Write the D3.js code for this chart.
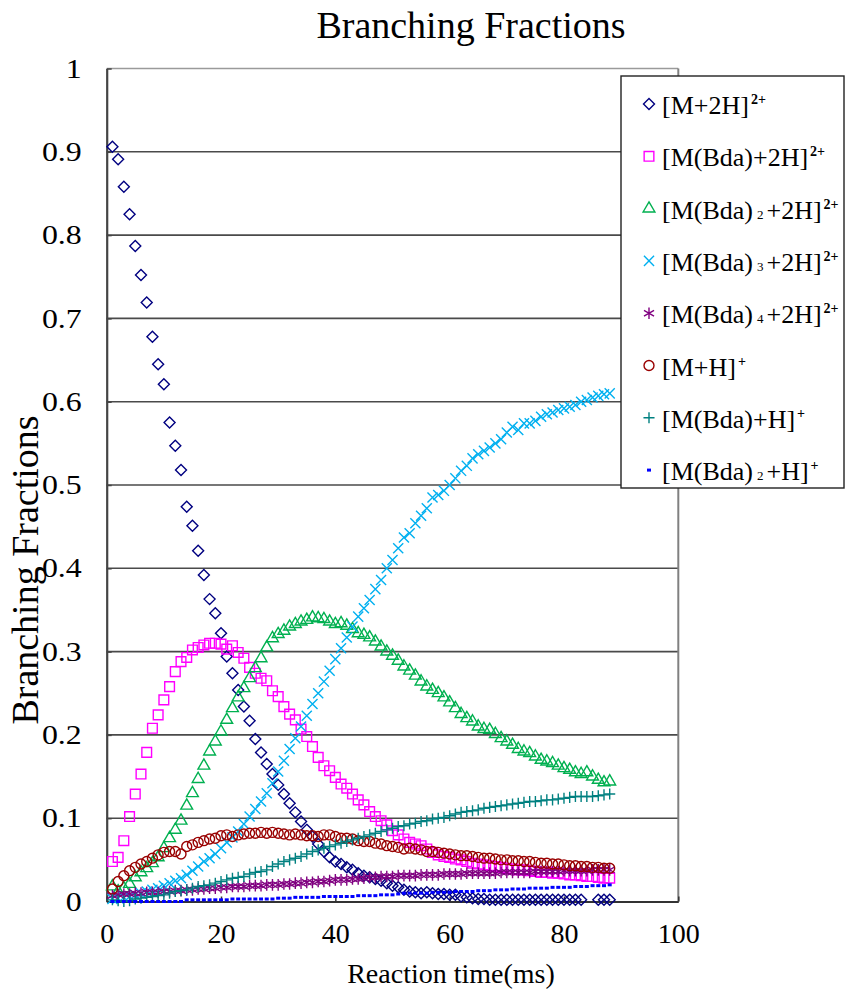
<!DOCTYPE html>
<html>
<head>
<meta charset="utf-8">
<script src="https://cdn.jsdelivr.net/npm/d3@7"></script>
<style>
  body { margin: 0; background: #fff; }
</style>
</head>
<body>
<svg id="chart" width="845" height="991"></svg>
<script>
// data
const times = [1,2,3,4,5,6,7,8,9,10,11,12,13,14,15,16,17,18,19,20,21,22,23,24,25,26,27,28,29,30,
  31,32,33,34,35,36,37,38,39,40,41,42,43,44,45,46,47,48,49,50,51,52,53,54,55,56,57,58,59,60,
  61,62,63,64,65,66,67,68,69,70,71,72,73,74,75,76,77,78,79,80,81,82,83,84,85,86,87,88]

const m2h = [0.906,0.891,0.858,0.825,0.787,0.752,0.719,0.678,0.645,0.621,
  0.575,0.547,0.518,0.474,0.451,0.421,0.392,0.363,0.346,0.322,
  0.294,0.274,0.254,0.234,0.217,0.195,0.179,0.165,0.153,0.140,
  0.129,0.118,0.107,0.096,0.086,0.078,0.069,0.060,0.053,0.048,
  0.045,0.041,0.038,0.034,0.031,0.029,0.027,0.025,0.022,0.019,
  0.017,0.014,0.012,0.011,0.010,0.011,0.010,0.009,0.009,0.008,
  0.008,0.006,0.005,0.004,0.003,0.003,0.002,0.002,0.002,0.002,
  0.002,0.002,0.002,0.002,0.002,0.002,0.002,0.002,0.002,0.002,
  0.002,0.002,0.002,null,null,0.002,0.002,0.002]

const bda1_2h = [0.048,0.053,0.073,0.102,0.129,0.153,0.179,0.208,0.224,0.242,
  0.258,0.276,0.288,0.293,0.302,0.305,0.308,0.310,0.310,0.309,
  0.303,0.307,0.299,0.292,0.281,0.274,0.268,0.265,0.253,0.246,
  0.234,0.225,0.218,0.207,0.198,0.186,0.173,0.163,0.157,0.149,
  0.141,0.136,0.129,0.122,0.116,0.108,0.102,0.097,0.092,0.085,
  0.080,0.075,0.071,0.069,0.067,0.063,0.059,0.056,0.054,0.053,
  0.051,0.050,0.048,0.046,0.045,0.044,0.043,0.042,0.041,0.040,
  0.039,0.038,0.038,0.037,0.036,0.035,0.035,0.034,0.034,0.033,
  0.032,0.032,0.031,0.030,0.030,0.029,0.028,0.028]

const bda2_2h = [0.018,0.012,0.016,0.021,0.029,0.035,0.040,0.046,0.053,0.064,
  0.076,0.086,0.097,0.115,0.130,0.147,0.163,0.180,0.192,0.204,
  0.218,0.232,0.245,0.256,0.268,0.280,0.292,0.305,0.316,0.321,
  0.325,0.330,0.333,0.336,0.338,0.341,0.340,0.339,0.336,0.333,
  0.334,0.331,0.327,0.322,0.320,0.317,0.312,0.306,0.300,0.295,
  0.289,0.282,0.277,0.271,0.264,0.258,0.254,0.250,0.245,0.239,
  0.232,0.225,0.220,0.216,0.210,0.207,0.206,0.201,0.196,0.192,
  0.188,0.183,0.180,0.178,0.174,0.170,0.168,0.166,0.163,0.160,
  0.158,0.155,0.153,0.155,0.150,0.146,0.143,0.144]

const bda3_2h = [0.003,0.004,0.005,0.006,0.008,0.010,0.012,0.014,0.016,0.019,
  0.022,0.025,0.028,0.032,0.037,0.042,0.048,0.052,0.057,0.064,
  0.071,0.077,0.084,0.093,0.102,0.111,0.120,0.130,0.142,0.156,
  0.169,0.183,0.196,0.210,0.223,0.237,0.250,0.264,0.277,0.291,
  0.304,0.317,0.330,0.342,0.352,0.362,0.375,0.386,0.400,0.410,
  0.424,0.437,0.442,0.454,0.463,0.472,0.485,0.488,0.493,0.500,
  0.508,0.517,0.523,0.532,0.537,0.541,0.545,0.550,0.555,0.563,
  0.570,0.566,0.574,0.574,0.577,0.582,0.585,0.587,0.590,0.592,
  0.594,0.596,0.600,0.602,0.605,0.607,0.609,0.610]

const bda4_2h = [0.007,0.008,0.009,0.009,0.010,0.010,0.011,0.011,0.011,0.012,
  0.012,0.013,0.013,0.014,0.014,0.015,0.015,0.016,0.016,0.017,
  0.017,0.018,0.018,0.018,0.019,0.019,0.019,0.020,0.020,0.020,
  0.021,0.021,0.022,0.022,0.023,0.023,0.024,0.024,0.025,0.026,
  0.026,0.026,0.027,0.027,0.028,0.029,0.029,0.030,0.030,0.030,
  0.031,0.031,0.031,0.031,0.032,0.032,0.032,0.032,0.033,0.033,
  0.033,0.033,0.034,0.034,0.034,0.034,0.034,0.034,0.035,0.035,
  0.035,0.035,0.035,0.035,0.036,0.036,0.036,0.036,0.036,0.037,
  0.037,0.037,0.037,0.037,0.038,0.038,0.038,0.038]

const mh = [0.015,0.024,0.031,0.037,0.041,0.045,0.048,0.052,0.056,0.059,
  0.060,0.060,0.057,0.066,0.068,0.071,0.073,0.075,0.076,0.079,
  0.080,0.078,0.080,0.081,0.082,0.082,0.083,0.082,0.083,0.082,
  0.081,0.080,0.081,0.080,0.079,0.079,0.078,0.080,0.080,0.078,
  0.076,0.076,0.075,0.073,0.072,0.072,0.070,0.069,0.067,0.066,
  0.065,0.063,0.064,0.063,0.062,0.060,0.060,0.059,0.058,0.057,
  0.056,0.055,0.055,0.054,0.053,0.052,0.052,0.051,0.050,0.050,
  0.049,0.049,0.048,0.048,0.047,0.046,0.046,0.045,0.045,0.044,
  0.043,0.043,0.042,0.042,0.041,0.041,0.040,0.040]

const bda1_h = [0.002,0.001,0.000,0.001,0.003,0.004,0.005,0.006,0.007,0.008,
  0.010,0.012,0.013,0.014,0.016,0.018,0.019,0.020,0.022,0.024,
  0.026,0.028,0.029,0.030,0.033,0.035,0.036,0.038,0.042,0.045,
  0.048,0.050,0.052,0.054,0.057,0.060,0.062,0.064,0.066,0.068,
  0.070,0.072,0.074,0.076,0.078,0.080,0.082,0.084,0.086,0.088,
  0.090,0.091,0.093,0.094,0.096,0.097,0.099,0.100,0.101,0.103,
  0.105,0.107,0.108,0.109,0.110,0.112,0.113,0.114,0.115,0.116,
  0.117,0.118,0.119,0.120,0.120,0.121,0.122,0.122,0.123,0.124,
  0.125,0.126,0.126,0.126,0.126,0.127,0.128,0.129]

const bda2_h = [0,0,0,0,0,0,0,0,0,0,
  0,0,0,0.002,0.002,0.002,0.002,0.002,0.002,0.002,
  0.002,0.003,0.003,0.003,0.003,0.003,0.003,0.003,0.003,0.004,
  0.004,0.004,0.005,0.005,0.005,0.005,0.005,0.006,0.006,0.006,
  0.006,0.006,0.006,0.007,0.007,0.007,0.007,0.008,0.008,0.008,
  0.009,0.010,0.010,0.010,0.010,0.010,0.011,0.011,0.011,0.011,
  0.012,0.012,0.012,0.012,0.013,0.013,0.013,0.014,0.014,0.014,
  0.015,0.015,0.015,0.016,0.016,0.016,0.016,0.017,0.017,0.017,
  0.017,0.018,0.018,0.018,0.019,0.019,0.019,0.020]

const yTicks = [0,0.1,0.2,0.3,0.4,0.5,0.6,0.7,0.8,0.9,1]
const yTickLabels = ["0","0.1","0.2","0.3","0.4","0.5","0.6","0.7","0.8","0.9","1"]
const xTicks = [0,20,40,60,80,100]

// legend labels: [text, kind]
const legendParts = [
  [["[M+2H]","n"],["2+","sup"]],
  [["[M(Bda)+2H]","n"],["2+","sup"]],
  [["[M(Bda)","n"],["2","sub"],["+2H]","n"],["2+","sup"]],
  [["[M(Bda)","n"],["3","sub"],["+2H]","n"],["2+","sup"]],
  [["[M(Bda)","n"],["4","sub"],["+2H]","n"],["2+","sup"]],
  [["[M+H]","n"],["+","sup"]],
  [["[M(Bda)+H]","n"],["+","sup"]],
  [["[M(Bda)","n"],["2","sub"],["+H]","n"],["+","sup"]]
]

const seriesValues = [m2h, bda1_2h, bda2_2h, bda3_2h, bda4_2h, mh, bda1_h, bda2_h]
const seriesColors = ["#000080","#ff00ff","#00b050","#00b0f0","#800080","#990000","#008080","#0000ff"]
const seriesSymbols = [d3.symbolDiamond2, d3.symbolSquare2, d3.symbolTriangle2, d3.symbolTimes,
  d3.symbolAsterisk, d3.symbolCircle, d3.symbolPlus, null]
const seriesSizes = [77, 120, 100, 68, 95, 78, 42, 0]

const SERIF = "'Liberation Serif', 'Times New Roman', serif"

// SCALES

const svg = d3.select("#chart")
const x = d3.scaleLinear().domain([0, 100]).range([106.7, 678.3])
const y = d3.scaleLinear().domain([0, 1]).range([901.5, 68.5])

svg.append("rect")
  .attr("width", 845).attr("height", 991).attr("fill", "#fff")

// GRID

svg.append("g")
  .selectAll("line")
  .data(yTicks.filter(d => d > 0 && d < 1))
  .enter()
  .append("line")
    .attr("x1", x(0)).attr("x2", x(100))
    .attr("y1", d => y(d)).attr("y2", d => y(d))
    .attr("stroke", "#4a4a4a")
    .attr("stroke-width", 1.6)

// plot frame top + right
svg.append("line")
  .attr("x1", x(0)).attr("x2", x(100)).attr("y1", y(1)).attr("y2", y(1))
  .attr("stroke", "#9a9a9a").attr("stroke-width", 1.5)
svg.append("line")
  .attr("x1", x(100)).attr("x2", x(100)).attr("y1", y(1)).attr("y2", y(0))
  .attr("stroke", "#808080").attr("stroke-width", 2)

// AXES

const yAxis = svg.append("g")
  .attr("transform", "translate(" + x(0) + ",0)")
  .call(d3.axisLeft(y).tickValues(yTicks).tickSize(-5).tickSizeOuter(0).tickPadding(25)
    .tickFormat((d, i) => yTickLabels[i]))
yAxis.select(".domain").attr("stroke", "#444").attr("stroke-width", 2.2)
yAxis.selectAll("line").attr("stroke", "#444").attr("stroke-width", 1.5)
yAxis.selectAll("text")
  .attr("font-family", SERIF)
  .attr("font-size", 27)
  .attr("fill", "#000")
  .attr("transform", function() {
    const tx = +d3.select(this).attr("x")
    return "translate(" + tx + ",0) scale(1.18,1)"
  })
  .attr("x", 0)

const xAxis = svg.append("g")
  .attr("transform", "translate(0," + y(0) + ")")
  .call(d3.axisBottom(x).tickValues(xTicks).tickSize(-5).tickSizeOuter(0).tickPadding(22))
xAxis.select(".domain").attr("stroke", "#333").attr("stroke-width", 2.2)
xAxis.selectAll("line").attr("stroke", "#333").attr("stroke-width", 1.5)
xAxis.selectAll("text")
  .attr("font-family", SERIF)
  .attr("font-size", 28)
  .attr("fill", "#000")

// SERIES

seriesValues.forEach(function(vals, s) {
  const pts = times.map((t, i) => ({t: t, v: vals[i]})).filter(d => d.v !== null)
  const g = svg.append("g").attr("class", "series")
  if (seriesSymbols[s]) {
    g.selectAll("path")
      .data(pts)
      .enter()
      .append("path")
        .attr("d", d3.symbol().type(seriesSymbols[s]).size(seriesSizes[s]))
        .attr("transform", d => "translate(" + x(d.t) + "," + y(d.v) + ")")
        .attr("fill", "none")
        .attr("stroke", seriesColors[s])
        .attr("stroke-width", 1.4)
  } else {
    g.selectAll("rect")
      .data(pts)
      .enter()
      .append("rect")
        .attr("x", d => x(d.t) - 2)
        .attr("y", d => y(d.v) - 1.5)
        .attr("width", 4)
        .attr("height", 3)
        .attr("fill", seriesColors[s])
  }
})

// LEGEND

const legend = svg.append("g").attr("class", "legend")
legend.append("rect")
  .attr("x", 621).attr("y", 76).attr("width", 223).attr("height", 412)
  .attr("fill", "#fff").attr("stroke", "#222").attr("stroke-width", 1.4)

const legendY = d3.scaleLinear().domain([0, 1]).range([114, 166.3])

legendParts.forEach(function(parts, i) {
  const by = legendY(i)
  const item = legend.append("g")
  if (seriesSymbols[i]) {
    item.append("path")
      .attr("d", d3.symbol().type(seriesSymbols[i]).size(seriesSizes[i]))
      .attr("transform", "translate(649," + (by - 10) + ")")
      .attr("fill", "none")
      .attr("stroke", seriesColors[i])
      .attr("stroke-width", 1.4)
  } else {
    item.append("rect")
      .attr("x", 647).attr("y", by - 11.5).attr("width", 4).attr("height", 3)
      .attr("fill", seriesColors[i])
  }
  const txt = item.append("text")
    .attr("x", 662).attr("y", by)
    .attr("font-family", SERIF)
    .attr("font-size", 26)
  parts.forEach(function(p) {
    const ts = txt.append("tspan").text(p[0])
    if (p[1] === "sup") {
      ts.attr("font-size", 14).attr("font-weight", "bold").attr("dx", 2).attr("dy", -10)
    } else if (p[1] === "sub") {
      ts.attr("font-size", 13).attr("dx", 4).attr("dy", 0)
    } else if (txt.selectAll("tspan").size() > 1) {
      ts.attr("dx", 3).attr("dy", 0)
    }
  })
})

// TITLES

svg.append("text")
  .attr("x", 471).attr("y", 38)
  .attr("text-anchor", "middle")
  .attr("font-family", SERIF)
  .attr("font-size", 38)
  .text("Branching Fractions")

svg.append("text")
  .attr("transform", "translate(38,570) rotate(-90)")
  .attr("text-anchor", "middle")
  .attr("font-family", SERIF)
  .attr("font-size", 38)
  .text("Branching Fractions")

svg.append("text")
  .attr("x", 451).attr("y", 983)
  .attr("text-anchor", "middle")
  .attr("font-family", SERIF)
  .attr("font-size", 28)
  .text("Reaction time(ms)")
</script>
</body>
</html>
